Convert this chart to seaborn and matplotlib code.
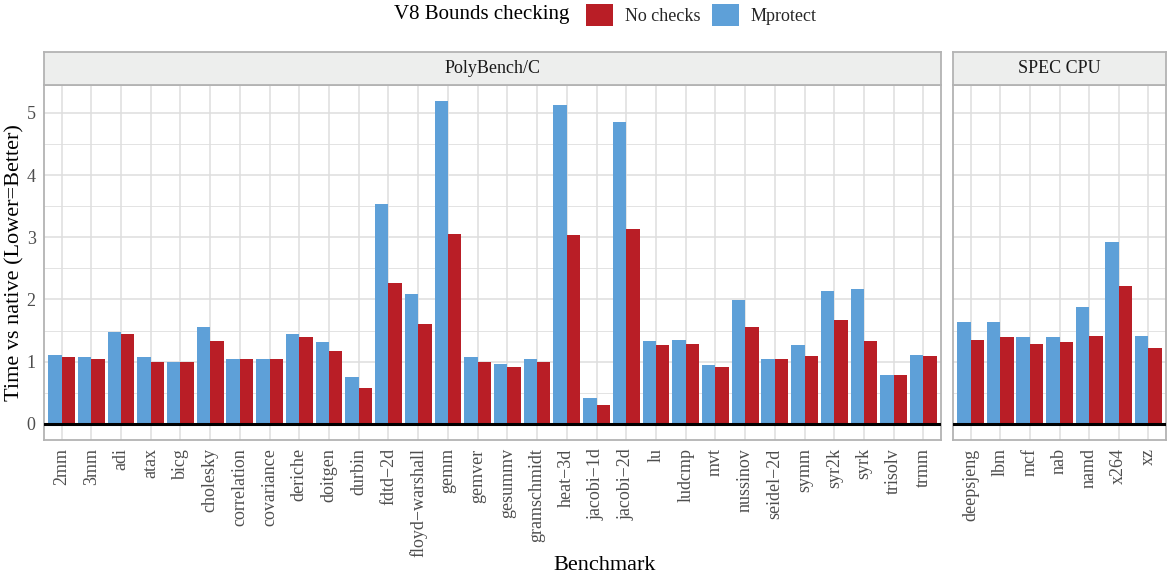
import numpy as np
import pandas as pd
import matplotlib
matplotlib.use("Agg")
import matplotlib.pyplot as plt
from matplotlib.patches import Patch
import seaborn as sns

# Benchmarks and normalised run times (time vs native)
poly_benchmarks = ["2mm", "3mm", "adi", "atax", "bicg", "cholesky", "correlation",
                   "covariance", "deriche", "doitgen", "durbin", "fdtd−2d",
                   "floyd−warshall", "gemm", "gemver", "gesummv", "gramschmidt",
                   "heat−3d", "jacobi−1d", "jacobi−2d", "lu", "ludcmp", "mvt",
                   "nussinov", "seidel−2d", "symm", "syr2k", "syrk", "trisolv", "trmm"]
poly_mprotect = [1.10, 1.08, 1.47, 1.07, 1.00, 1.55, 1.05, 1.05, 1.45, 1.31, 0.76,
                 3.53, 2.09, 5.19, 1.08, 0.955, 1.035, 5.13, 0.41, 4.86, 1.34,
                 1.355, 0.94, 1.995, 1.05, 1.26, 2.14, 2.17, 0.78, 1.115]
poly_nochecks = [1.07, 1.05, 1.45, 0.99, 0.99, 1.34, 1.035, 1.035, 1.39, 1.165, 0.57,
                 2.27, 1.61, 3.05, 0.99, 0.91, 0.99, 3.035, 0.30, 3.13, 1.275,
                 1.29, 0.91, 1.565, 1.05, 1.085, 1.675, 1.325, 0.78, 1.085]

spec_benchmarks = ["deepsjeng", "lbm", "mcf", "nab", "namd", "x264", "xz"]
spec_mprotect = [1.63, 1.63, 1.39, 1.39, 1.885, 2.92, 1.42]
spec_nochecks = [1.355, 1.39, 1.29, 1.31, 1.42, 2.22, 1.225]

configs = ["Mprotect", "No checks"]
legend_order = ["No checks", "Mprotect"]
colors = {"No checks": "#B91E26", "Mprotect": "#5EA0D8"}
suites = ["PolyBench/C", "SPEC CPU"]


def long_frame(names, mprot, nochk):
    return pd.DataFrame({
        "Benchmark": list(names) * 2,
        "Time": list(mprot) + list(nochk),
        "Config": ["Mprotect"] * len(names) + ["No checks"] * len(names),
    })


frames = [long_frame(poly_benchmarks, poly_mprotect, poly_nochecks),
          long_frame(spec_benchmarks, spec_mprotect, spec_nochecks)]
orders = [poly_benchmarks, spec_benchmarks]

sns.set_theme(style="white")
plt.rcParams["font.family"] = ["Liberation Serif", "DejaVu Serif"]

W, H = 1167, 577
fig = plt.figure(figsize=(W / 100, H / 100), dpi=100)


def fig_box(x0, y0, x1, y1):
    return [x0 / W, 1 - y1 / H, (x1 - x0) / W, (y1 - y0) / H]


panel_top, panel_bot = 85, 440
strip_top = 52
panels = [(44, 941), (953, 1166)]
grid_col = "#DEDEDE"
border_col = "#B3B3B3"
tick_col = "#4D4D4D"

for i, (x0, x1) in enumerate(panels):
    ax = fig.add_axes(fig_box(x0, panel_top, x1, panel_bot))
    sns.barplot(data=frames[i], x="Benchmark", y="Time", hue="Config",
                order=orders[i], hue_order=configs, palette=colors,
                width=0.9, linewidth=0, saturation=1, legend=False, ax=ax,
                errorbar=None, zorder=3)
    n = len(orders[i])
    ax.set_xlim(-0.59, n - 1 + 0.59)
    ax.set_ylim(-0.26, 5.45)
    ax.set_yticks(np.arange(0, 6, 1))
    ax.set_yticks(np.arange(0.5, 5.0, 1), minor=True)
    ax.grid(True, which="major", color=grid_col, linewidth=1.1, zorder=0)
    ax.grid(True, which="minor", axis="y", color=grid_col, linewidth=0.6, zorder=0)
    ax.set_axisbelow(True)
    ax.axhline(0, color="black", linewidth=2.2, zorder=4)
    for sp in ax.spines.values():
        sp.set_color(border_col)
        sp.set_linewidth(1.3)
    ax.tick_params(axis="x", which="major", length=4, color=border_col, width=1,
                   labelsize=13, labelcolor=tick_col, labelrotation=90, pad=2)
    ax.tick_params(axis="y", which="major", length=4 if i == 0 else 0,
                   color=border_col, width=1, labelsize=13, labelcolor=tick_col,
                   labelleft=(i == 0), pad=2)
    ax.tick_params(axis="y", which="minor", length=0)
    ax.set_xlabel("")
    ax.set_ylabel("")

    # facet strip
    sax = fig.add_axes(fig_box(x0, strip_top, x1, panel_top))
    sax.set_facecolor("#EDEEED")
    sax.set_xticks([])
    sax.set_yticks([])
    for sp in sax.spines.values():
        sp.set_color(border_col)
        sp.set_linewidth(1.3)
    sax.text(0.5, 0.5, suites[i], transform=sax.transAxes, ha="center",
             va="center", fontsize=13, color="#1A1A1A")

fig.text(605 / W, 1 - 565 / H, "Benchmark", ha="center", va="center",
         fontsize=16, color="black")
fig.text(15 / W, 1 - 263 / H, "Time vs native (Lower=Better)", ha="center",
         va="center", rotation=90, fontsize=16, color="black")

# legend along the top
fig.text(482 / W, 1 - 15 / H, "V8 Bounds checking", ha="center", va="center",
         fontsize=15, color="black")
handles = [Patch(facecolor=colors[c], edgecolor="none") for c in legend_order]
fig.legend(handles, legend_order, ncol=2, loc="center left",
           bbox_to_anchor=(586 / W, 1 - 15 / H), frameon=False, fontsize=13,
           handlelength=1.5, handleheight=1.5, handletextpad=0.65,
           columnspacing=0.65, borderpad=0, borderaxespad=0)

fig.savefig("out.png", dpi=100)
